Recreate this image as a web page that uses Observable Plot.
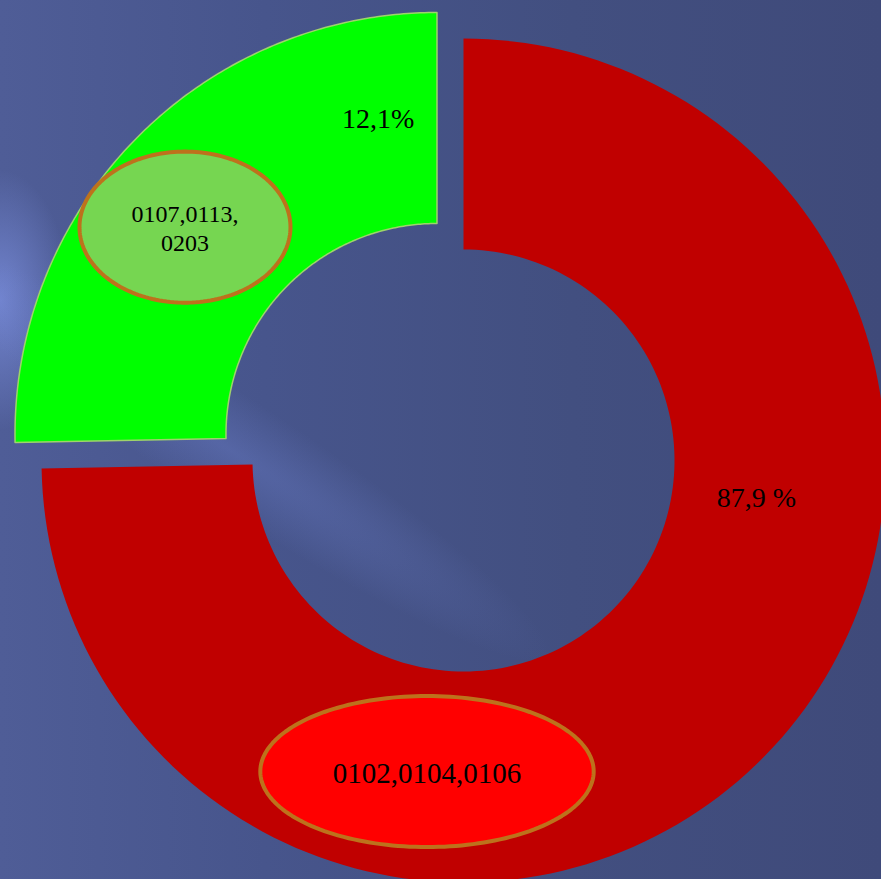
<!DOCTYPE html>
<html>
<head>
<meta charset="utf-8">
<script src="https://cdn.jsdelivr.net/npm/d3@7"></script>
<script src="https://cdn.jsdelivr.net/npm/@observablehq/plot@0.6"></script>
<style>
  html, body { margin: 0; padding: 0; }
  body {
    position: relative;
    width: 881px; height: 879px; overflow: hidden;
    background:
      radial-gradient(ellipse 70px 130px at 0px 300px, rgba(125,145,225,0.75), rgba(125,145,225,0) 100%),
      linear-gradient(90deg, #4f5d97 0%, #47558c 30%, #424f80 65%, #3f4a7a 100%);
  }
  #streak {
    position: absolute; left: -150px; top: 395px; width: 760px; height: 110px;
    transform: rotate(33deg); transform-origin: 50% 50%;
    background: radial-gradient(closest-side, rgba(115,135,215,0.32), rgba(115,135,215,0));
    pointer-events: none;
  }
  #chart { position: absolute; left: 0; top: 0; }
  #chart svg { display: block; background: transparent; }
</style>
</head>
<body>
<div id="streak"></div>
<div id="chart"></div>
<script>
// ---- data ----
const sliceKeys = ["A", "B"];
const sliceShares = [74.7, 25.3];            // proportions as drawn in the picture
const sliceColors = ["#c00000", "#00ff00"];
const sliceStrokes = ["none", "#9fd36b"];
const sliceExplode = [0, 0.088];              // fraction of outer radius
const innerRatio = 0.5;

const percentLabels = ["87,9 %", "12,1%"];
const percentX = [0.694, -0.202];
const percentY = [-0.088, 0.808];

const calloutLabels = ["0102,0104,0106", "0107,0113,\n0203"];
const calloutX = [-0.0865, -0.660];
const calloutY = [-0.737, 0.553];
const calloutRx = [0.395, 0.250];
const calloutRy = [0.179, 0.179];
const calloutFill = ["#ff0000", "#76d651"];
const calloutStroke = "#bd721c";
const calloutFont = [29, 24];

// ---- geometry from data ----
const total = d3.sum(sliceShares);
let acc = 0;
const slices = sliceKeys.map((k, i) => {
  const a0 = acc / total * 2 * Math.PI;
  acc += sliceShares[i];
  const a1 = acc / total * 2 * Math.PI;
  const mid = (a0 + a1) / 2;
  return {k, i, a0, a1, ox: Math.sin(mid) * sliceExplode[i], oy: Math.cos(mid) * sliceExplode[i]};
});

function arcPoints(s) {
  const n = 160, pts = [];
  for (let j = 0; j <= n; j++) {
    const a = s.a0 + (s.a1 - s.a0) * j / n;
    pts.push({x: s.ox + Math.sin(a), y: s.oy + Math.cos(a)});
  }
  for (let j = n; j >= 0; j--) {
    const a = s.a0 + (s.a1 - s.a0) * j / n;
    pts.push({x: s.ox + innerRatio * Math.sin(a), y: s.oy + innerRatio * Math.cos(a)});
  }
  pts.push(pts[0]);
  return pts;
}

function ellipsePoints(i) {
  const n = 180, pts = [];
  for (let j = 0; j <= n; j++) {
    const t = j / n * 2 * Math.PI;
    pts.push({x: calloutX[i] + calloutRx[i] * Math.cos(t), y: calloutY[i] + calloutRy[i] * Math.sin(t)});
  }
  return pts;
}

const sliceMarks = slices.map(s => Plot.line(arcPoints(s), {
  x: "x", y: "y", curve: "linear",
  fill: sliceColors[s.i], stroke: sliceStrokes[s.i], strokeWidth: 1.5
}));

const calloutMarks = calloutLabels.map((_, i) => Plot.line(ellipsePoints(i), {
  x: "x", y: "y", curve: "linear",
  fill: calloutFill[i], stroke: calloutStroke, strokeWidth: 4
}));

const percentData = percentLabels.map((t, i) => ({t, x: percentX[i], y: percentY[i]}));
const calloutData = calloutLabels.map((t, i) => ({t, x: calloutX[i], y: calloutY[i], fs: calloutFont[i]}));

const chart = Plot.plot({
  width: 881,
  height: 879,
  margin: 0,
  x: {domain: [-1, 1], range: [41, 885], axis: null},
  y: {domain: [-1, 1], range: [882, 38], axis: null},
  style: {background: "transparent", fontFamily: "Liberation Serif"},
  marks: [
    ...sliceMarks,
    ...calloutMarks,
    Plot.text(percentData, {x: "x", y: "y", text: "t", fontSize: 28, fill: "black", fontFamily: "Liberation Serif"}),
    Plot.text(calloutData.slice(0, 1), {x: "x", y: "y", text: "t", fontSize: 29, fill: "black", fontFamily: "Liberation Serif", dy: 2}),
    Plot.text(calloutData.slice(1), {x: "x", y: "y", text: "t", fontSize: 24, lineHeight: 1.2, fill: "black", fontFamily: "Liberation Serif"})
  ]
});
document.getElementById("chart").appendChild(chart);
</script>
</body>
</html>
